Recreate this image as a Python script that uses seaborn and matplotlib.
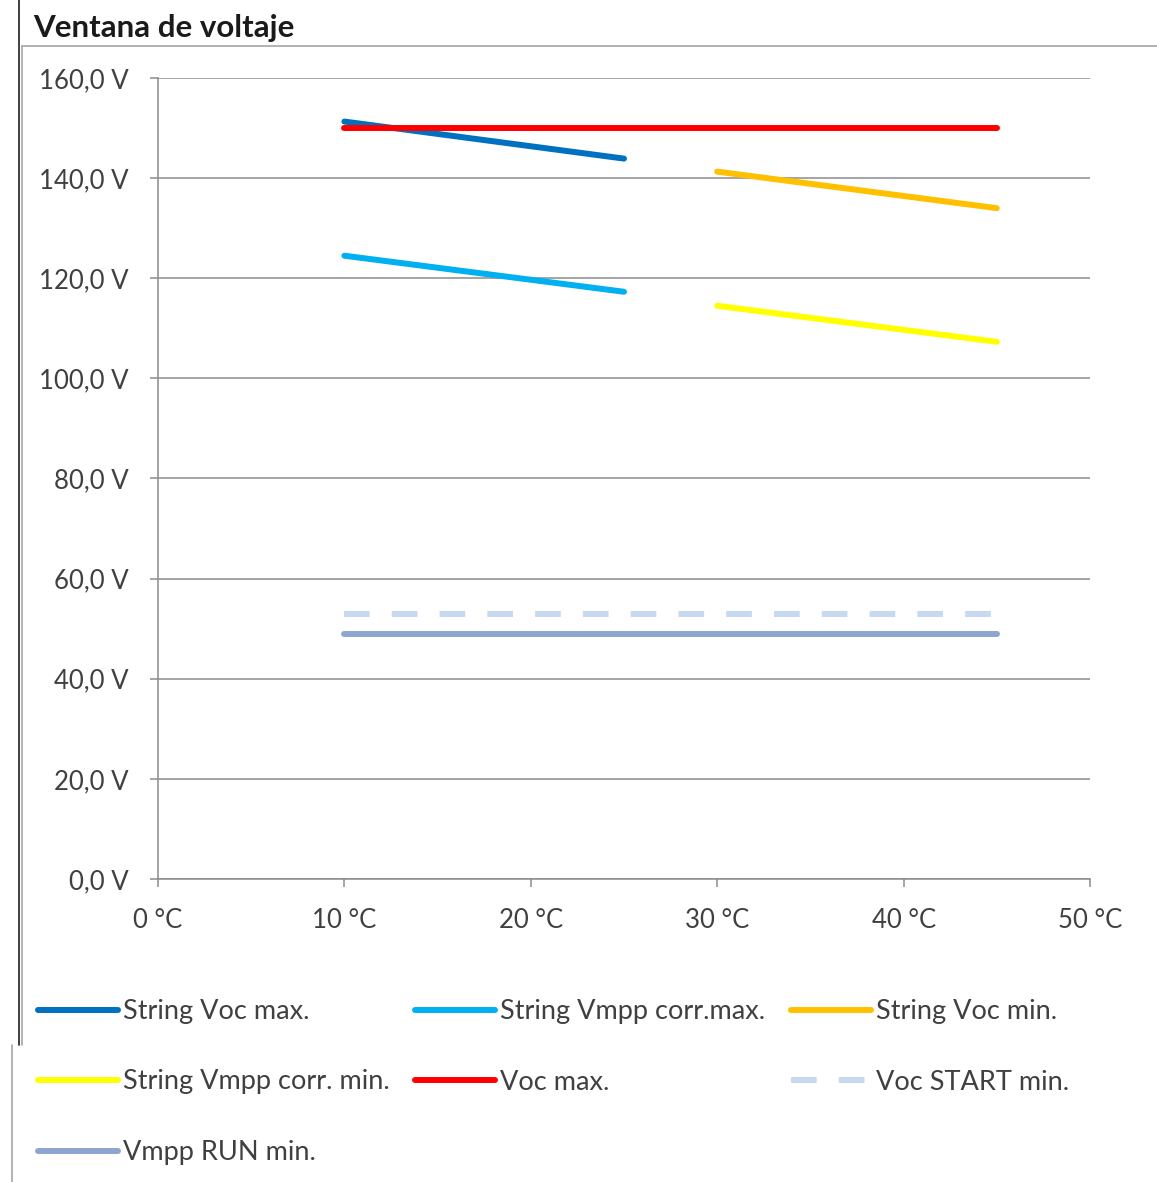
import numpy as np
import pandas as pd
import seaborn as sns
import matplotlib.pyplot as plt
from matplotlib.lines import Line2D
from matplotlib.ticker import FuncFormatter

# --- data -------------------------------------------------------------
series_names = [
    "String Voc max.",
    "String Vmpp corr.max.",
    "String Voc min.",
    "String Vmpp corr. min.",
    "Voc max.",
    "Voc START min.",
    "Vmpp RUN min.",
]
temps_cold = [10, 25]
temps_hot = [30, 45]
temps_all = [10, 45]

string_voc_max = [151.3, 143.9]
string_vmpp_corr_max = [124.5, 117.3]
string_voc_min = [141.3, 134.0]
string_vmpp_corr_min = [114.5, 107.3]
voc_max = [150.0, 150.0]
voc_start_min = [53.0, 53.0]
vmpp_run_min = [49.0, 49.0]

x_ticks = [0, 10, 20, 30, 40, 50]
y_ticks = [0, 20, 40, 60, 80, 100, 120, 140, 160]

series_temps = [temps_cold, temps_cold, temps_hot, temps_hot, temps_all, temps_all, temps_all]
series_values = [string_voc_max, string_vmpp_corr_max, string_voc_min,
                 string_vmpp_corr_min, voc_max, voc_start_min, vmpp_run_min]
colors = ["#0070C0", "#00B0F0", "#FFC000", "#FFFF00", "#FF0000", "#C6D9F1", "#8EA6CF"]
dashed = [False, False, False, False, False, True, False]

# --- figure -----------------------------------------------------------
sns.set_theme(style="white")
plt.rcParams["font.family"] = ["Lato", "DejaVu Sans"]

W, H = 1157, 1182
fig = plt.figure(figsize=(W / 100, H / 100), dpi=100)
ax = fig.add_axes([158 / W, 1 - 879 / H, (1090 - 158) / W, (879 - 78) / H])

LW = 4.3
for name, t, v, c, d in zip(series_names, series_temps, series_values, colors, dashed):
    df = pd.DataFrame({"Temperatura": t, "Voltaje": v})
    kw = dict(linestyle=(0, (4.3, 3.7)), dash_capstyle="butt") if d else dict(solid_capstyle="round")
    sns.lineplot(data=df, x="Temperatura", y="Voltaje", ax=ax, color=c,
                 linewidth=LW, label=name, legend=False, **kw)

ax.set_xlim(0, 50)
ax.set_ylim(0, 160)
ax.set_xticks(x_ticks)
ax.set_yticks(y_ticks)
ax.xaxis.set_major_formatter(FuncFormatter(lambda v, p: f"{v:.0f} °C"))
ax.yaxis.set_major_formatter(FuncFormatter(lambda v, p: f"{v:.1f} V".replace(".", ",")))
ax.set_xlabel("")
ax.set_ylabel("")

grid_c = "#8C8C8C"
ax.grid(axis="y", color=grid_c, linewidth=1.1)
ax.grid(axis="x", visible=False)
ax.set_axisbelow(True)
for s in ["top", "right"]:
    ax.spines[s].set_visible(False)
for s in ["left", "bottom"]:
    ax.spines[s].set_color(grid_c)
    ax.spines[s].set_linewidth(1.1)

ax.tick_params(axis="both", which="major", direction="out", length=6, width=1.1,
               color=grid_c, labelsize=18.5, labelcolor="#404040")
ax.tick_params(axis="y", pad=15.5, left=True)
ax.tick_params(axis="x", pad=15, bottom=True)

# title
fig.text(33 / W, 1 - 37 / H, "Ventana de voltaje", fontsize=22.5, fontweight="bold",
         color="#1A1A1A", ha="left", va="baseline")

# legend (row-major order across three columns)
handles, labels = ax.get_legend_handles_labels()
order = [0, 3, 6, 1, 4, 2, 5]
leg = fig.legend([handles[i] for i in order], [labels[i] for i in order],
                 loc="upper left", bbox_to_anchor=(38 / W, 1 - 999 / H),
                 ncol=3, frameon=False, fontsize=19.5, handlelength=2.95,
                 handletextpad=0.18, columnspacing=0.95, labelspacing=1.68,
                 borderpad=0, borderaxespad=0)
for t in leg.get_texts():
    t.set_color("#404040")

# outer frame lines of the chart area
frame_c = "#A6A6A6"
fig.add_artist(Line2D([22 / W, 1.0], [1 - 46 / H, 1 - 46 / H], transform=fig.transFigure,
                      color=frame_c, linewidth=1.2))
fig.add_artist(Line2D([22 / W, 22 / W], [1 - 46 / H, 1 - 1045 / H], transform=fig.transFigure,
                      color=frame_c, linewidth=1.2))
fig.add_artist(Line2D([19 / W, 19 / W], [1.0, 1 - 1045 / H], transform=fig.transFigure,
                      color="#303030", linewidth=1.3))
fig.add_artist(Line2D([12 / W, 12 / W], [1 - 1045 / H, 0.0], transform=fig.transFigure,
                      color=frame_c, linewidth=1.2))

fig.savefig("out.png", dpi=100, facecolor="white")
